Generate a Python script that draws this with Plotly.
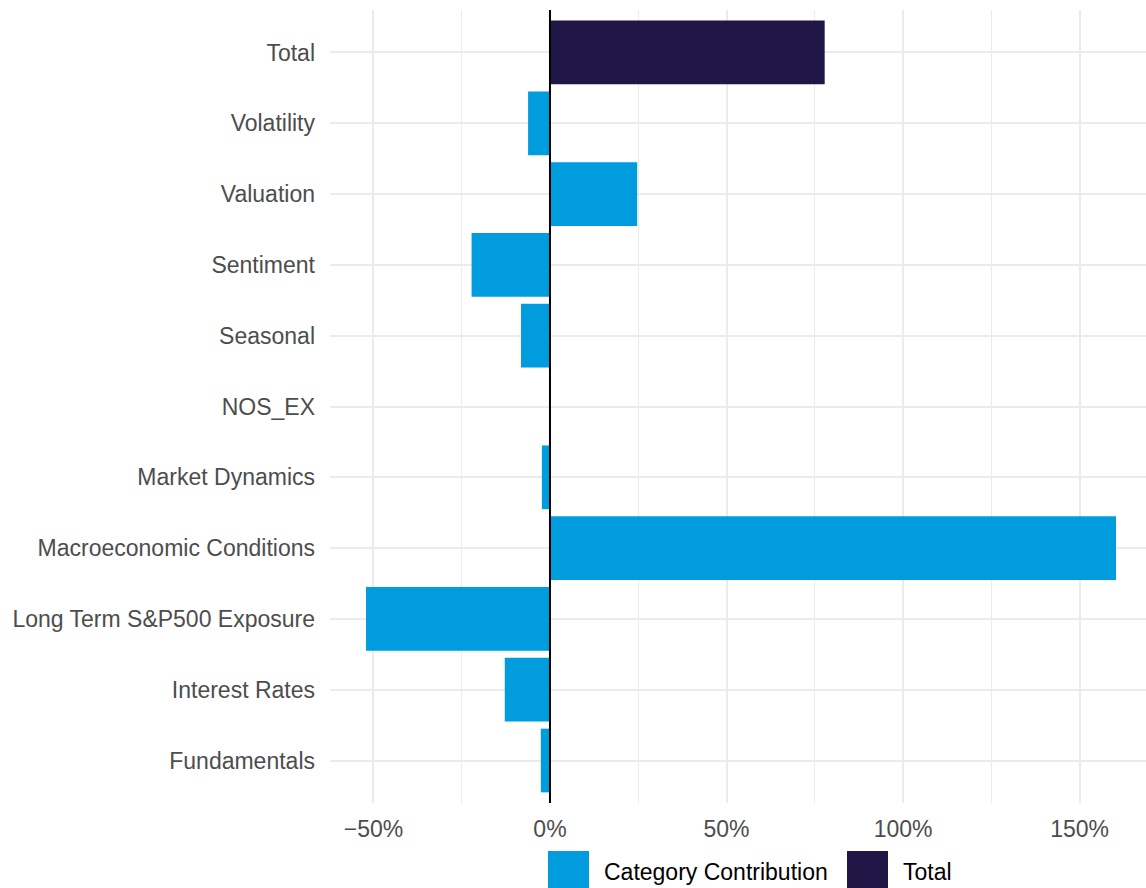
import plotly.graph_objects as go

# Data (bottom-to-top order on the y axis)
categories = ["Fundamentals", "Interest Rates", "Long Term S&P500 Exposure",
              "Macroeconomic Conditions", "Market Dynamics", "NOS_EX", "Seasonal",
              "Sentiment", "Valuation", "Volatility", "Total"]
contrib_cats = categories[:-1]
contrib_vals = [-0.026, -0.128, -0.521, 1.603, -0.023, 0.0, -0.082, -0.222, 0.247, -0.062]
total_cats = ["Total"]
total_vals = [0.778]
x_tickvals = [-0.5, 0, 0.5, 1.0, 1.5]
legend_labels = ["Category Contribution", "Total"]

BLUE = "#009CDE"
NAVY = "#211747"
FONT = "Liberation Sans, Arial, sans-serif"

W, H = 1146, 888
L, R, T, B = 330, 0, 10, 85
PW, PH = W - L - R, H - T - B

def px(x):
    return (x - L) / PW

def py(y):
    return (H - B - y) / PH

fig = go.Figure()
fig.add_trace(go.Bar(x=contrib_vals, y=contrib_cats, orientation="h", width=0.9,
                     marker=dict(color=BLUE, line=dict(width=0)), name=legend_labels[0],
                     showlegend=False))
fig.add_trace(go.Bar(x=total_vals, y=total_cats, orientation="h", width=0.9,
                     marker=dict(color=NAVY, line=dict(width=0)), name=legend_labels[1],
                     showlegend=False))

# zero line above bars
fig.add_shape(type="line", x0=0, x1=0, y0=0, y1=1, xref="x", yref="paper",
              line=dict(color="black", width=2), layer="above")

# manual legend
legend_items = [(548, 589, BLUE, 602, legend_labels[0]),
                (847, 888, NAVY, 901, legend_labels[1])]
for x0, x1, col, tx, lab in legend_items:
    fig.add_shape(type="rect", xref="paper", yref="paper",
                  x0=px(x0), x1=px(x1), y0=py(851), y1=py(892),
                  fillcolor=col, line=dict(width=0))
    fig.add_annotation(xref="paper", yref="paper", x=px(tx), y=py(872),
                       text=lab, showarrow=False, xanchor="left", yanchor="middle",
                       font=dict(family=FONT, size=23, color="black"))

fig.update_layout(
    width=W, height=H,
    margin=dict(l=L, r=R, t=T, b=B, pad=0),
    plot_bgcolor="white", paper_bgcolor="white",
    barmode="overlay",
    showlegend=False,
    font=dict(family=FONT, size=23, color="#4D4D4D"),
    xaxis=dict(range=[-0.623, 1.688], tickvals=x_tickvals, tickformat=".0%",
               showgrid=True, gridcolor="#EBEBEB", gridwidth=2,
               zeroline=False, showline=False, ticks="",
               ticklabelstandoff=10,
               tickfont=dict(family=FONT, size=23, color="#4D4D4D"),
               minor=dict(tickvals=[-0.25, 0.25, 0.75, 1.25], showgrid=True,
                          gridcolor="#EBEBEB", gridwidth=1)),
    yaxis=dict(type="category", categoryorder="array", categoryarray=categories,
               range=[-0.6, 10.6], showgrid=True, gridcolor="#EBEBEB", gridwidth=2,
               zeroline=False, showline=False, ticks="",
               ticklabelstandoff=14,
               tickfont=dict(family=FONT, size=23, color="#4D4D4D")),
)

fig.write_html("out.html", config={"displayModeBar": False},
               post_script="document.body.style.margin='0';document.body.style.overflow='hidden';")
